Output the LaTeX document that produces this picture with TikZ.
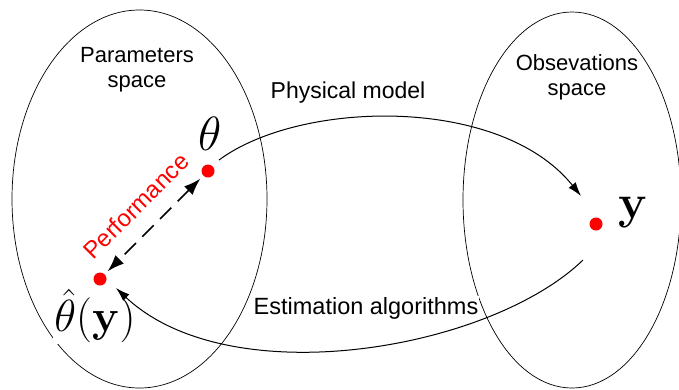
\RequirePackage{fix-cm}
\documentclass[tikz,border=0pt]{standalone}
\usepackage[no-math]{fontspec}
\setmainfont{Liberation Sans}
\usepackage{amsmath}
\usetikzlibrary{arrows.meta}
\begin{document}
\begin{tikzpicture}[x=1pt,y=-1pt,
  lbl/.style={font=\fontsize{22}{25}\selectfont, align=center, inner sep=1pt},
  wlbl/.style={lbl, fill=white},
  dot/.style={circle, fill=red, minimum size=13pt, inner sep=0pt},
  math/.style={font=\fontsize{48}{50}\selectfont, inner sep=1pt},
  conn/.style={line width=1pt, -{Latex[length=14pt,width=9pt]}},
  space/.style={line width=0.7pt}]
\useasboundingbox (0,0) rectangle (679,389);
% spaces
\draw[space] (139.5,199) ellipse [x radius=127.5, y radius=189];
\draw[space] (572,200) ellipse [x radius=109, y radius=188];
% labels
\node[lbl] (pspace) at (137,70) {Parameters\\space};
\node[lbl] (ospace) at (577,77) {Obsevations\\space};
\node[lbl, font=\fontsize{23}{25}\selectfont] (phys) at (348,93) {Physical model};
\node[wlbl, font=\fontsize{23.5}{25}\selectfont] (est) at (366,308) {Estimation algorithms};
% points
\node[dot] (th) at (208,171) {};
\node[dot] (thh) at (100,279) {};
\node[dot] (yy) at (596,224) {};
\node[math] (thlbl) at (210,134) {$\theta$};
\node[math, fill=white, font=\fontsize{45}{46}\selectfont] (thhlbl) at (95,316) {$\hat{\theta}(\mathbf{y})$};
\node[math] (ylbl) at (633,212) {$\mathbf{y}$};
% connectors
\coordinate (physstart) at (219,160);
\coordinate (physend) at (581,196);
\coordinate (eststart) at (583,260);
\coordinate (estend) at (116,288);
\draw[conn] (physstart) .. controls (300,100) and (500,95) .. (physend);
\draw[conn] (eststart) .. controls (490,350) and (230,395) .. (estend);
\draw[line width=1.7pt, dash pattern=on 16pt off 9pt, shorten >=4pt, shorten <=4pt,
  {Latex[length=17pt,width=12pt]}-{Latex[length=17pt,width=12pt]}]
  (th) -- (thh);
\node[lbl, text=red, rotate=45, font=\fontsize{24}{25}\selectfont] (perf) at (136,206) {Performance};
\end{tikzpicture}
\end{document}
